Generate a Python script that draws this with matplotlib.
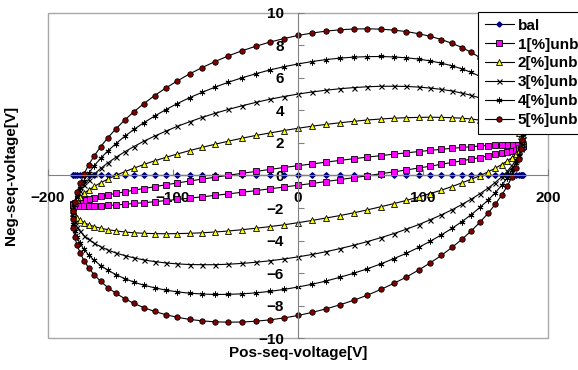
import numpy as np
import matplotlib.pyplot as plt
from matplotlib.patches import Rectangle

# positive sequence voltage (same for every case), one cycle
pos_seq = [180.0, 179.6, 178.6, 176.8, 174.3, 171.2, 167.4, 162.9, 157.7, 152.0, 145.6, 138.7, 131.2,
           123.2, 114.7, 105.8, 96.5, 86.7, 76.6, 66.3, 55.6, 44.8, 33.7, 22.6, 11.3, 0.0,
           -11.3, -22.6, -33.7, -44.8, -55.6, -66.3, -76.6, -86.7, -96.5, -105.8, -114.7, -123.2, -131.2,
           -138.7, -145.6, -152.0, -157.7, -162.9, -167.4, -171.2, -174.3, -176.8, -178.6, -179.6, -180.0,
           -179.6, -178.6, -176.8, -174.3, -171.2, -167.4, -162.9, -157.7, -152.0, -145.6, -138.7, -131.2,
           -123.2, -114.7, -105.8, -96.5, -86.7, -76.6, -66.3, -55.6, -44.8, -33.7, -22.6, -11.3, 0.0,
           11.3, 22.6, 33.7, 44.8, 55.6, 66.3, 76.6, 86.7, 96.5, 105.8, 114.7, 123.2, 131.2,
           138.7, 145.6, 152.0, 157.7, 162.9, 167.4, 171.2, 174.3, 176.8, 178.6, 179.6, 180.0]

# negative sequence voltage per case
neg_bal = [0.0] * len(pos_seq)

neg_1 = [1.80, 1.83, 1.86, 1.88, 1.89, 1.90, 1.90, 1.88, 1.87, 1.84, 1.81, 1.77, 1.72, 1.67, 1.61, 1.54,
         1.47, 1.39, 1.31, 1.22, 1.13, 1.03, 0.93, 0.82, 0.71, 0.60,
         0.49, 0.37, 0.25, 0.13, 0.02, -0.11, -0.22, -0.34, -0.46, -0.57, -0.69, -0.80, -0.90, -1.01,
         -1.10, -1.20, -1.29, -1.37, -1.45, -1.53, -1.59, -1.66, -1.71, -1.76, -1.80,
         -1.83, -1.86, -1.88, -1.89, -1.90, -1.90, -1.88, -1.87, -1.84, -1.81, -1.77, -1.72, -1.67,
         -1.61, -1.54, -1.47, -1.39, -1.31, -1.22, -1.13, -1.03, -0.93, -0.82, -0.71, -0.60,
         -0.49, -0.37, -0.25, -0.13, -0.02, 0.11, 0.22, 0.34, 0.46, 0.57, 0.69, 0.80, 0.90, 1.01,
         1.10, 1.20, 1.29, 1.37, 1.45, 1.53, 1.59, 1.66, 1.71, 1.76, 1.80]

neg_2 = [2.10, 2.28, 2.45, 2.61, 2.76, 2.89, 3.02, 3.14, 3.24, 3.33, 3.40, 3.47, 3.52, 3.55, 3.57, 3.58,
         3.57, 3.55, 3.52, 3.47, 3.41, 3.33, 3.24, 3.14, 3.03, 2.90,
         2.76, 2.61, 2.46, 2.29, 2.11, 1.92, 1.73, 1.53, 1.32, 1.11, 0.90, 0.68, 0.45, 0.23,
         0.01, -0.22, -0.44, -0.67, -0.89, -1.10, -1.31, -1.52, -1.72, -1.91, -2.10,
         -2.28, -2.45, -2.61, -2.76, -2.89, -3.02, -3.14, -3.24, -3.33, -3.40, -3.47, -3.52, -3.55,
         -3.57, -3.58, -3.57, -3.55, -3.52, -3.47, -3.41, -3.33, -3.24, -3.14, -3.03, -2.90,
         -2.76, -2.61, -2.46, -2.29, -2.11, -1.92, -1.73, -1.53, -1.32, -1.11, -0.90, -0.68, -0.45, -0.23,
         -0.01, 0.22, 0.44, 0.67, 0.89, 1.10, 1.31, 1.52, 1.72, 1.91, 2.10]

neg_3 = [2.25, 2.56, 2.86, 3.15, 3.42, 3.69, 3.93, 4.17, 4.38, 4.58, 4.76, 4.92, 5.06, 5.19, 5.29, 5.37,
         5.43, 5.47, 5.48, 5.48, 5.45, 5.40, 5.33, 5.24, 5.13, 5.00,
         4.85, 4.68, 4.49, 4.28, 4.06, 3.82, 3.57, 3.30, 3.02, 2.72, 2.42, 2.11, 1.78, 1.45,
         1.12, 0.78, 0.44, 0.09, -0.25, -0.60, -0.94, -1.27, -1.61, -1.93, -2.25,
         -2.56, -2.86, -3.15, -3.42, -3.69, -3.93, -4.17, -4.38, -4.58, -4.76, -4.92, -5.06, -5.19,
         -5.29, -5.37, -5.43, -5.47, -5.48, -5.48, -5.45, -5.40, -5.33, -5.24, -5.13, -5.00,
         -4.85, -4.68, -4.49, -4.28, -4.06, -3.82, -3.57, -3.30, -3.02, -2.72, -2.42, -2.11, -1.78, -1.45,
         -1.12, -0.78, -0.44, -0.09, 0.25, 0.60, 0.94, 1.27, 1.61, 1.93, 2.25]

neg_4 = [2.55, 2.98, 3.39, 3.79, 4.17, 4.54, 4.89, 5.22, 5.54, 5.82, 6.09, 6.33, 6.55, 6.74, 6.90, 7.04,
         7.15, 7.23, 7.28, 7.31, 7.30, 7.27, 7.21, 7.12, 7.00, 6.85,
         6.68, 6.48, 6.25, 6.00, 5.73, 5.43, 5.11, 4.78, 4.42, 4.04, 3.65, 3.25, 2.83, 2.40,
         1.96, 1.52, 1.07, 0.61, 0.15, -0.31, -0.77, -1.22, -1.67, -2.12, -2.55,
         -2.98, -3.39, -3.79, -4.17, -4.54, -4.89, -5.22, -5.54, -5.82, -6.09, -6.33, -6.55, -6.74,
         -6.90, -7.04, -7.15, -7.23, -7.28, -7.31, -7.30, -7.27, -7.21, -7.12, -7.00, -6.85,
         -6.68, -6.48, -6.25, -6.00, -5.73, -5.43, -5.11, -4.78, -4.42, -4.04, -3.65, -3.25, -2.83, -2.40,
         -1.96, -1.52, -1.07, -0.61, -0.15, 0.31, 0.77, 1.22, 1.67, 2.12, 2.55]

neg_5 = [2.70, 3.24, 3.76, 4.26, 4.75, 5.23, 5.68, 6.11, 6.51, 6.89, 7.24, 7.56, 7.86, 8.12, 8.35, 8.55,
         8.71, 8.84, 8.93, 8.99, 9.01, 9.00, 8.95, 8.87, 8.75, 8.60,
         8.41, 8.19, 7.94, 7.66, 7.35, 7.00, 6.63, 6.24, 5.81, 5.37, 4.91, 4.42, 3.92, 3.40,
         2.87, 2.33, 1.78, 1.22, 0.66, 0.09, -0.48, -1.04, -1.60, -2.16, -2.70,
         -3.24, -3.76, -4.26, -4.75, -5.23, -5.68, -6.11, -6.51, -6.89, -7.24, -7.56, -7.86, -8.12,
         -8.35, -8.55, -8.71, -8.84, -8.93, -8.99, -9.01, -9.00, -8.95, -8.87, -8.75, -8.60,
         -8.41, -8.19, -7.94, -7.66, -7.35, -7.00, -6.63, -6.24, -5.81, -5.37, -4.91, -4.42, -3.92, -3.40,
         -2.87, -2.33, -1.78, -1.22, -0.66, -0.09, 0.48, 1.04, 1.60, 2.16, 2.70]

labels = ['bal', '1[%]unb', '2[%]unb', '3[%]unb', '4[%]unb', '5[%]unb']
x_ticks = [-200, -100, 0, 100, 200]
y_ticks = [-10, -8, -6, -4, -2, 0, 2, 4, 6, 8, 10]

plt.rcParams['font.family'] = ['Liberation Sans', 'DejaVu Sans']
plt.rcParams['font.weight'] = 'bold'

# marker styles, excel-ish
styles = [
    dict(color='black', marker='D', ms=2.6, mfc='#000080', mec='#000080'),
    dict(color='black', marker='s', ms=3.8, mfc='#FF00FF', mec='black', mew=0.6),
    dict(color='black', marker='^', ms=4.0, mfc='#FFFF00', mec='black', mew=0.6),
    dict(color='black', marker='x', ms=3.6, mec='black', mew=0.8),
    dict(color='black', marker=(6, 2, 0), ms=4.2, mec='black', mew=0.7),
    dict(color='black', marker='o', ms=3.9, mfc='#800000', mec='black', mew=0.6),
]
series = [neg_bal, neg_1, neg_2, neg_3, neg_4, neg_5]

fig = plt.figure(figsize=(5.78, 3.70), dpi=100)
ax = fig.add_axes([0.083, 0.0857, 0.865, 0.880])

for y, lab, st in zip(series, labels, styles):
    ax.plot(pos_seq, y, lw=0.8, label=lab, **st)

ax.set_xlim(-200, 200)
ax.set_ylim(-10, 10)
ax.set_xticks(x_ticks)
ax.set_yticks(y_ticks)

# axes cross at zero, plot area has a grey frame
for s in ['top', 'right']:
    ax.spines[s].set_visible(False)
ax.spines['left'].set_position('zero')
ax.spines['bottom'].set_position('zero')
ax.spines['left'].set_color('#808080')
ax.spines['bottom'].set_color('#808080')
ax.add_patch(Rectangle((0, 0), 1, 1, transform=ax.transAxes, fill=False,
                       edgecolor='#a8a8a8', lw=1, clip_on=False, zorder=0))

ax.tick_params(axis='both', direction='in', length=4, color='#808080', labelsize=11)
ax.tick_params(axis='y', pad=10)
ax.tick_params(axis='x', pad=11)

ax.set_xlabel('Pos-seq-voltage[V]', fontsize=11, fontweight='bold')
ax.set_ylabel('Neg-seq-voltage[V]', fontsize=11, fontweight='bold')
ax.xaxis.set_label_coords(0.5, -0.025)
ax.yaxis.set_label_coords(-0.06, 0.5)

leg = ax.legend(loc='upper left', bbox_to_anchor=(0.827, 0.968), bbox_transform=fig.transFigure,
                fontsize=11, frameon=True, fancybox=False, framealpha=1, edgecolor='black',
                borderaxespad=0, borderpad=0.45, labelspacing=0.32, handlelength=1.9, handletextpad=0.25)
leg.get_frame().set_linewidth(0.8)

plt.savefig('out.png', dpi=100)
